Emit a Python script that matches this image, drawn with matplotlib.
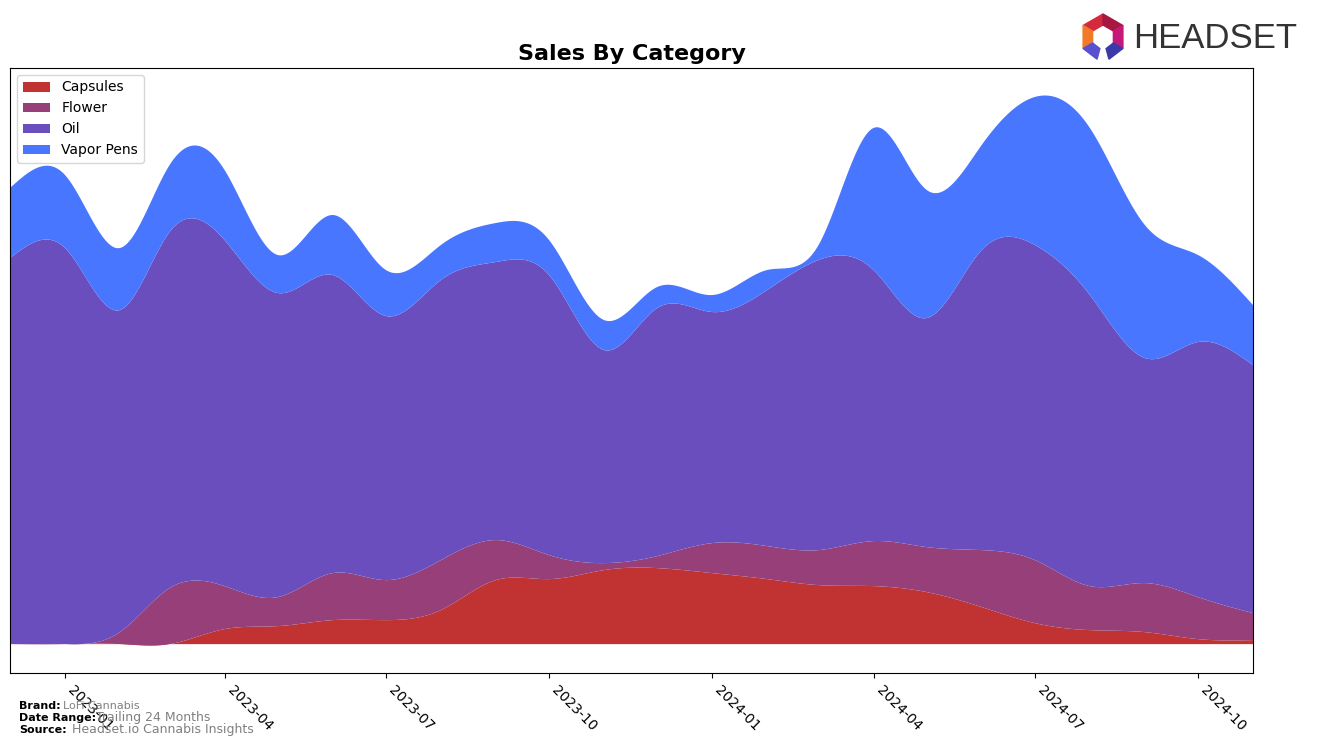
import numpy as np
import pandas as pd
import matplotlib
matplotlib.use("Agg")
import matplotlib.pyplot as plt
import matplotlib.dates as mdates
from matplotlib.patches import Polygon

# --- data (monthly) ---
months = pd.date_range("2022-12-01", "2024-11-01", freq="MS")
categories = ["Capsules", "Flower", "Oil", "Vapor Pens"]
capsules = [0, 0, 0, 0, 15, 18, 24, 24, 34, 64, 65, 74,
            76, 71, 65, 59, 58, 52, 37, 21, 14, 12, 5, 4]
flower = [0, 0, 12, 56, 43, 29, 47, 40, 50, 40, 24, 7,
          12, 30, 33, 35, 45, 45, 57, 63, 44, 49, 42, 27]
oil = [386, 396, 322, 356, 346, 304, 298, 264, 280, 278, 280, 213,
       248, 231, 256, 290, 271, 229, 300, 315, 291, 225, 255, 248]
vapor_pens = [70, 73, 62, 67, 70, 38, 60, 46, 35, 39, 35, 30,
              21, 17, 20, 15, 142, 128, 105, 148, 167, 133, 87, 60]
colors = ["#c13333", "#973f78", "#6a4ebd", "#4876ff"]


def natural_spline(x, y, xs):
    # plain natural cubic spline, only used to draw smooth edges
    x = np.asarray(x, float)
    y = np.asarray(y, float)
    n = len(x)
    h = np.diff(x)
    A = np.zeros((n, n))
    b = np.zeros(n)
    A[0, 0] = 1
    A[-1, -1] = 1
    for i in range(1, n - 1):
        A[i, i - 1] = h[i - 1]
        A[i, i] = 2 * (h[i - 1] + h[i])
        A[i, i + 1] = h[i]
        b[i] = 3 * ((y[i + 1] - y[i]) / h[i] - (y[i] - y[i - 1]) / h[i - 1])
    c = np.linalg.solve(A, b)
    bb = (y[1:] - y[:-1]) / h - h * (2 * c[:-1] + c[1:]) / 3
    d = (c[1:] - c[:-1]) / (3 * h)
    idx = np.clip(np.searchsorted(x, xs) - 1, 0, n - 2)
    t = xs - x[idx]
    return y[idx] + bb[idx] * t + c[idx] * t ** 2 + d[idx] * t ** 3


xnum = mdates.date2num(months)
xs = np.linspace(xnum[0], xnum[-1], 1200)
smooth = [natural_spline(xnum, s, xs) for s in [capsules, flower, oil, vapor_pens]]

fig = plt.figure(figsize=(13.17, 7.47), dpi=100)
ax = fig.add_axes([10 / 1317, 1 - 673 / 747, 1243 / 1317, 605 / 747])

ax.stackplot(mdates.num2date(xs), *smooth, labels=categories, colors=colors)
ax.set_xlim(months[0], months[-1])
ax.margins(x=0)
ax.set_yticks([])

ax.xaxis.set_major_locator(mdates.MonthLocator(bymonth=[1, 4, 7, 10]))
ax.xaxis.set_major_formatter(mdates.DateFormatter("%Y-%m"))
plt.setp(ax.get_xticklabels(), rotation=-45, ha="left", fontsize=10)

ax.set_title("Sales By Category", fontsize=16, fontweight="bold", pad=6)
ax.legend(loc="upper left", fontsize=10)

# footer
fig.text(19 / 1317, 1 - 706 / 747, "Brand:", fontsize=8, fontweight="bold", va="center")
fig.text(63 / 1317, 1 - 706 / 747, "LoFi Cannabis", fontsize=8, color="gray", va="center")
fig.text(19 / 1317, 1 - 718 / 747, "Date Range:", fontsize=8, fontweight="bold", va="center")
fig.text(96 / 1317, 1 - 718 / 747, "Trailing 24 Months", fontsize=9, color="gray", va="center")
fig.text(19 / 1317, 1 - 730 / 747, "Source:", fontsize=8, fontweight="bold", va="center")
fig.text(72 / 1317, 1 - 730 / 747, "Headset.io Cannabis Insights", fontsize=9, color="gray", va="center")

# logo: hexagon ring + word
cx, cy, ro, ri = 1103, 37, 23, 12


def px(x, y):
    return (x / 1317, 1 - y / 747)


def ring_piece(a0, a1, col):
    a0, a1 = np.radians(a0), np.radians(a1)
    pts = [px(cx + ro * np.cos(a0), cy - ro * np.sin(a0)),
           px(cx + ro * np.cos(a1), cy - ro * np.sin(a1)),
           px(cx + ri * np.cos(a1), cy - ri * np.sin(a1)),
           px(cx + ri * np.cos(a0), cy - ri * np.sin(a0))]
    fig.add_artist(Polygon(pts, closed=True, color=col, transform=fig.transFigure))


ring_piece(90, 150, "#d42a3c")
ring_piece(30, 90, "#a8173f")
ring_piece(150, 210, "#f07a2a")
ring_piece(330, 30, "#c4187a")
ring_piece(210, 255, "#5a4fd0")
ring_piece(285, 330, "#3b3aa8")

fig.text(1133 / 1317, 1 - 38 / 747, "HEADSET", fontsize=25, color="#333333",
         va="center", ha="left", family="Liberation Sans")

fig.savefig("out.png", dpi=100)
